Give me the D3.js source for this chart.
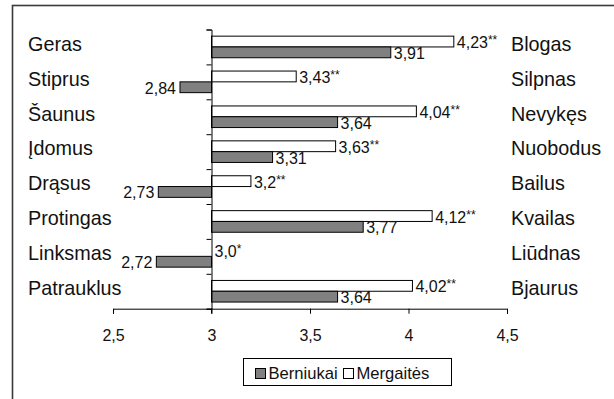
<!DOCTYPE html>
<html>
<head>
<meta charset="utf-8">
<script src="https://cdn.jsdelivr.net/npm/d3@7"></script>
<style>
  html, body { margin: 0; padding: 0; background: #fff; }
  svg { display: block; }
  text { font-family: "Liberation Sans", Arial, sans-serif; fill: #111; }
</style>
</head>
<body>
<svg id="chart" width="614" height="399"></svg>
<script>
// Semantic differential pairs (positive pole on the left, negative on the right)
const leftTerms  = ["Geras", "Stiprus", "Šaunus", "Įdomus", "Drąsus", "Protingas", "Linksmas", "Patrauklus"];
const rightTerms = ["Blogas", "Silpnas", "Nevykęs", "Nuobodus", "Bailus", "Kvailas", "Liūdnas", "Bjaurus"];

// Mean ratings
const boys  = [3.91, 2.84, 3.64, 3.31, 2.73, 3.77, 2.72, 3.64];
const girls = [4.23, 3.43, 4.04, 3.63, 3.2, 4.12, 3.0, 4.02];
// Significance marks for the girls' means
const girlsSig = ["**", "**", "**", "**", "**", "**", "*", "**"];

const xTicks = [2.5, 3, 3.5, 4, 4.5];
const seriesNames = ["Berniukai", "Mergaitės"];

const svg = d3.select("#chart");
const W = 614, H = 399;

// Outer frame (runs off the right and bottom edges)
svg.append("rect")
  .attr("x", 12.5).attr("y", 5.5)
  .attr("width", W + 20).attr("height", H + 20)
  .attr("fill", "none").attr("stroke", "#3a3a3a").attr("stroke-width", 1.6);

const plot = { left: 113, right: 507, top: 29.5, bottom: 308.7 };
const base = 3;

const x = d3.scaleLinear().domain([2.5, 4.5]).range([plot.left, plot.right]);
const y = d3.scaleBand().domain(d3.range(leftTerms.length)).range([plot.top, plot.bottom]);
const barH = 10.8;

const fmt = v => (Number.isInteger(v) ? v.toFixed(1) : String(v)).replace(".", ",");

// Bars: girls (white) on top, boys (grey) beneath
const groups = svg.append("g");
const rows = d3.range(leftTerms.length);

const girlY = i => y(i) + y.bandwidth() / 2 - barH;
const boyY  = i => y(i) + y.bandwidth() / 2;

groups.selectAll("rect.girl").data(rows).join("rect")
  .attr("class", "girl")
  .attr("x", i => Math.min(x(base), x(girls[i])))
  .attr("y", i => girlY(i))
  .attr("width", i => Math.abs(x(girls[i]) - x(base)))
  .attr("height", barH)
  .attr("fill", "#fff").attr("stroke", "#000").attr("stroke-width", 1);

groups.selectAll("rect.boy").data(rows).join("rect")
  .attr("class", "boy")
  .attr("x", i => Math.min(x(base), x(boys[i])))
  .attr("y", i => boyY(i))
  .attr("width", i => Math.abs(x(boys[i]) - x(base)))
  .attr("height", barH)
  .attr("fill", "#808080").attr("stroke", "#000").attr("stroke-width", 1);

// Value labels
const valSize = 16;
const girlLbl = svg.append("g").selectAll("text").data(rows).join("text")
  .attr("x", i => girls[i] >= base ? x(girls[i]) + 3 : x(girls[i]) - 4)
  .attr("y", i => girlY(i) + barH / 2 + 6.5)
  .attr("text-anchor", i => girls[i] >= base ? "start" : "end")
  .style("font-size", valSize + "px");
girlLbl.append("tspan").text(i => fmt(girls[i]));
girlLbl.append("tspan").text(i => girlsSig[i])
  .attr("dy", -4).style("font-size", "12px");

svg.append("g").selectAll("text").data(rows).join("text")
  .attr("x", i => boys[i] >= base ? x(boys[i]) + 3 : x(boys[i]) - 4)
  .attr("y", i => boyY(i) + barH / 2 + 6.5)
  .attr("text-anchor", i => boys[i] >= base ? "start" : "end")
  .style("font-size", valSize + "px")
  .text(i => fmt(boys[i]));

// Horizontal value axis
const xAxis = svg.append("g")
  .attr("transform", `translate(0,${plot.bottom})`)
  .call(d3.axisBottom(x).tickValues(xTicks).tickSize(5).tickPadding(16)
    .tickFormat(d => String(d).replace(".", ",")));
xAxis.select(".domain").attr("stroke", "#000");
xAxis.selectAll("line").attr("stroke", "#000");
xAxis.selectAll("text").style("font-size", "16px").attr("fill", "#111")
  .style("font-family", '"Liberation Sans", Arial, sans-serif');

// Category axis crossing at 3, with ticks between rows
const yb = d3.scaleLinear().domain([0, leftTerms.length]).range([plot.top, plot.bottom]);
const yAxis = svg.append("g")
  .attr("transform", `translate(${x(base)},0)`)
  .call(d3.axisLeft(yb).ticks(leftTerms.length).tickSize(5).tickFormat(""));
yAxis.select(".domain").attr("stroke", "#000");
yAxis.selectAll("line").attr("stroke", "#000");
// extension of the axis through the bottom tick
svg.append("line")
  .attr("x1", x(base)).attr("x2", x(base))
  .attr("y1", plot.bottom).attr("y2", plot.bottom + 5)
  .attr("stroke", "#000");

// Pole labels
const termSize = 19.8;
svg.append("g").selectAll("text").data(rows).join("text")
  .attr("x", 28)
  .attr("y", i => y(i) + y.bandwidth() / 2 + 3.8)
  .style("font-size", termSize + "px")
  .text(i => leftTerms[i]);

svg.append("g").selectAll("text").data(rows).join("text")
  .attr("x", 511)
  .attr("y", i => y(i) + y.bandwidth() / 2 + 3.8)
  .style("font-size", termSize + "px")
  .text(i => rightTerms[i]);

// Legend
const legend = svg.append("g");
legend.append("rect")
  .attr("x", 243.5).attr("y", 358.5).attr("width", 208).attr("height", 27)
  .attr("fill", "#fff").attr("stroke", "#000").attr("stroke-width", 1);
const swatchFill = ["#808080", "#fff"];
const swatchX = [255.5, 343.5];
seriesNames.forEach((name, k) => {
  legend.append("rect")
    .attr("x", swatchX[k]).attr("y", 368.5).attr("width", 10).attr("height", 10)
    .attr("fill", swatchFill[k]).attr("stroke", "#000").attr("stroke-width", 1);
  legend.append("text")
    .attr("x", swatchX[k] + 13).attr("y", 379.3)
    .style("font-size", "16.6px")
    .text(name);
});
</script>
</body>
</html>
